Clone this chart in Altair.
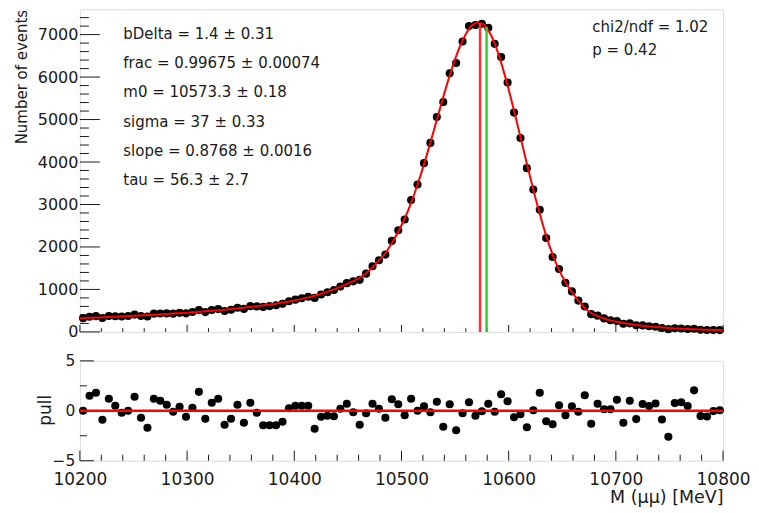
import altair as alt
import pandas as pd

# ---- binning of the histogram ----
BIN_LO = 10200
BIN_W = 6
N_BINS = 100
centers = [BIN_LO + BIN_W * (i + 0.5) for i in range(N_BINS)]

# ---- data ----
events = [324, 358, 371, 328, 375, 368, 362, 373, 408, 375,
          363, 429, 434, 435, 430, 449, 437, 467, 513, 466,
          515, 537, 492, 520, 568, 541, 606, 600, 588, 607,
          628, 661, 723, 759, 791, 827, 800, 880, 933, 985,
          1067, 1148, 1190, 1225, 1371, 1547, 1688, 1820, 2143, 2392,
          2647, 3106, 3470, 3973, 4450, 5059, 5411, 6091, 6333, 6839,
          7202, 7227, 7256, 7159, 6782, 6471, 5872, 5163, 4566, 3856,
          3353, 2875, 2210, 1762, 1481, 1155, 954, 737, 597, 418,
          383, 318, 274, 255, 193, 201, 156, 153, 133, 121,
          91, 65, 87, 79, 69, 75, 50, 45, 45, 42]

fit_values = [324, 331, 338, 345, 352, 359, 366, 373, 381, 389,
              397, 405, 414, 423, 432, 441, 450, 461, 472, 484,
              497, 510, 524, 539, 554, 570, 587, 605, 624, 644,
              665, 690, 716, 745, 777, 813, 853, 898, 948, 1002,
              1060, 1125, 1195, 1275, 1380, 1520, 1680, 1850, 2090, 2360,
              2670, 3040, 3470, 3945, 4460, 4995, 5530, 6040, 6490, 6860,
              7130, 7270, 7260, 7100, 6790, 6340, 5800, 5210, 4590, 3960,
              3350, 2780, 2260, 1820, 1460, 1170, 940, 740, 560, 445,
              370, 315, 272, 238, 210, 186, 165, 146, 130, 116,
              104, 93, 83, 75, 67, 61, 55, 50, 46, 42]
fit_edge_x = [10200, 10800]
fit_edge_y = [321, 40]

pulls = [0.0, 1.5, 1.8, -0.9, 1.2, 0.5, -0.2, 0.0, 1.4, -0.7,
         -1.7, 1.2, 1.0, 0.6, -0.1, 0.4, -0.6, 0.3, 1.9, -0.8,
         0.8, 1.2, -1.4, -0.8, 0.6, -1.2, 0.8, -0.2, -1.45, -1.45,
         -1.45, -1.1, 0.25, 0.5, 0.5, 0.5, -1.8, -0.6, -0.5, -0.55,
         0.2, 0.7, -0.15, -1.4, -0.25, 0.7, 0.2, -0.7, 1.15, 0.65,
         -0.45, 1.2, 0.0, 0.45, -0.15, 0.9, -1.6, 0.65, -1.95, -0.25,
         0.85, -0.5, -0.05, 0.7, -0.1, 1.65, 0.95, -0.65, -0.35, -1.65,
         0.05, 1.8, -1.05, -1.35, 0.55, -0.45, 0.45, -0.1, 1.55, -1.3,
         0.7, 0.15, 0.15, 1.1, -1.2, 1.0, -0.83, 0.68, 0.47, 0.73,
         -0.87, -2.6, 0.77, 0.85, 0.48, 2.05, -0.53, -0.57, -0.03, 0.05]

# vertical markers: fitted m0 (red) and reference mass (green)
marker_x = [10573.3, 10579.4]
marker_top = [7262, 7180]
marker_color = ["#ff3030", "#22dd22"]

# fit-parameter box
param_text = ["bDelta = 1.4 \u00b1 0.31",
              "frac = 0.99675 \u00b1 0.00074",
              "m0 = 10573.3 \u00b1 0.18",
              "sigma = 37 \u00b1 0.33",
              "slope = 0.8768 \u00b1 0.0016",
              "tau = 56.3 \u00b1 2.7"]
param_x = [10240.5] * 6
param_y = [7020, 6330, 5640, 4950, 4260, 3570]

gof_text = ["chi2/ndf = 1.02", "p = 0.42"]
gof_x = [10678, 10678]
gof_y = [7171, 6630]

# axis ticks
x_major = [10200, 10300, 10400, 10500, 10600, 10700, 10800]
x_minor = [v for v in range(10220, 10800, 20) if v % 100 != 0]
y1_major = [0, 1000, 2000, 3000, 4000, 5000, 6000, 7000]
y1_minor = [v for v in range(200, 7600, 200) if v % 1000 != 0]
y2_major = [-5, 0, 5]
y2_minor = [-2.5, 2.5]

FONT = "DejaVu Sans"
W, H1, H2 = 644, 323, 100
INK = "#1a1a1a"
DOT = 66

xscale = alt.Scale(domain=[10200, 10800], nice=False, zero=False)
y1scale = alt.Scale(domain=[0, 7595], nice=False, zero=False)
y2scale = alt.Scale(domain=[-5, 5], nice=False, zero=False)

df = pd.DataFrame({"m": centers, "events": events, "pull": pulls})
fit_df = pd.DataFrame({"m": [fit_edge_x[0]] + centers + [fit_edge_x[1]],
                       "fit": [fit_edge_y[0]] + fit_values + [fit_edge_y[1]]})
mk_df = pd.DataFrame({"m": marker_x, "top": marker_top, "c": marker_color, "z": [0, 0]})
par_df = pd.DataFrame({"x": param_x, "y": param_y, "t": param_text})
gof_df = pd.DataFrame({"x": gof_x, "y": gof_y, "t": gof_text})

y1_axis = alt.Axis(values=y1_major, format="d", title="Number of events",
                   titleFont=FONT, titleFontSize=15, titleFontWeight="normal",
                   titleColor=INK, titleX=-58.5, titleY=0, titleAlign="right",
                   titleBaseline="middle", titleAngle=270,
                   labelFont=FONT, labelFontSize=16, labelColor=INK,
                   labelPadding=2, ticks=False, domain=False, grid=False,
                   labelOverlap=False, minExtent=66, maxExtent=66)
bx_axis = alt.Axis(values=x_major, format="d", title="M (\u03bc\u03bc) [MeV]",
                   titleFont=FONT, titleFontSize=17.5, titleFontWeight="normal",
                   titleColor=INK, titleX=W, titleY=42, titleAlign="right",
                   titleBaseline="alphabetic",
                   labelFont=FONT, labelFontSize=17, labelColor=INK,
                   labelPadding=11, labelFlush=False, labelOverlap=False,
                   ticks=False, domain=False, grid=False)
y2_axis = alt.Axis(values=y2_major, format="d", title="pull",
                   titleFont=FONT, titleFontSize=17, titleFontWeight="normal",
                   titleColor=INK, titleX=-34.6, titleY=49, titleAlign="center",
                   titleBaseline="middle", titleAngle=270,
                   labelFont=FONT, labelFontSize=15.5, labelColor=INK,
                   labelPadding=5, ticks=False, domain=False, grid=False,
                   labelOverlap=False, minExtent=66, maxExtent=66)

X = lambda f: alt.X(f, scale=xscale, axis=None)
XB = lambda f: alt.X(f, scale=xscale, axis=bx_axis)
Y1 = lambda f: alt.Y(f, scale=y1scale, axis=y1_axis)
Y2 = lambda f: alt.Y(f, scale=y2scale, axis=y2_axis)

# ---------------- top panel ----------------
pts = alt.Chart(df).mark_circle(size=DOT, color="black", opacity=1).encode(
    x=X("m:Q"), y=Y1("events:Q"))
fit_line = alt.Chart(fit_df).mark_line(color="#ff0000", strokeWidth=2, interpolate="monotone").encode(
    x=X("m:Q"), y=Y1("fit:Q"))
markers = alt.Chart(mk_df).mark_rule(strokeWidth=2.5, opacity=1).encode(
    x=X("m:Q"), y=Y1("z:Q"), y2="top:Q",
    color=alt.Color("c:N", scale=None))
par = alt.Chart(par_df).mark_text(align="left", baseline="middle", font=FONT,
                                  fontSize=15, color=INK).encode(
    x=X("x:Q"), y=Y1("y:Q"), text="t:N")
gof = alt.Chart(gof_df).mark_text(align="left", baseline="middle", font=FONT,
                                  fontSize=15, color=INK).encode(
    x=X("x:Q"), y=Y1("y:Q"), text="t:N")

tx_maj1 = alt.Chart(pd.DataFrame({"t": x_major})).mark_rule(color=INK, strokeWidth=1).encode(
    x=X("t:Q"), y=alt.value(H1), y2=alt.value(H1 - 7))
tx_min1 = alt.Chart(pd.DataFrame({"t": x_minor})).mark_rule(color=INK, strokeWidth=1).encode(
    x=X("t:Q"), y=alt.value(H1), y2=alt.value(H1 - 3.7))
ty_maj1 = alt.Chart(pd.DataFrame({"t": y1_major})).mark_rule(color=INK, strokeWidth=1).encode(
    y=Y1("t:Q"), x=alt.value(0), x2=alt.value(20))
ty_min1 = alt.Chart(pd.DataFrame({"t": y1_minor})).mark_rule(color=INK, strokeWidth=1).encode(
    y=Y1("t:Q"), x=alt.value(0), x2=alt.value(9))

top = alt.layer(pts, tx_maj1, tx_min1, ty_maj1, ty_min1, fit_line, markers, par, gof).properties(
    width=W, height=H1)

# ---------------- pull panel ----------------
ppts = alt.Chart(df).mark_circle(size=DOT, color="black", opacity=1).encode(
    x=XB("m:Q"), y=Y2("pull:Q"))
zero_line = alt.Chart(pd.DataFrame({"z": [0]})).mark_rule(color="#ff0000", strokeWidth=2.5).encode(
    y=Y2("z:Q"))
tx_maj2 = alt.Chart(pd.DataFrame({"t": x_major})).mark_rule(color=INK, strokeWidth=1).encode(
    x=XB("t:Q"), y=alt.value(H2), y2=alt.value(H2 - 10))
tx_min2 = alt.Chart(pd.DataFrame({"t": x_minor})).mark_rule(color=INK, strokeWidth=1).encode(
    x=XB("t:Q"), y=alt.value(H2), y2=alt.value(H2 - 6))
ty_maj2 = alt.Chart(pd.DataFrame({"t": y2_major})).mark_rule(color=INK, strokeWidth=1).encode(
    y=Y2("t:Q"), x=alt.value(0), x2=alt.value(14))
ty_min2 = alt.Chart(pd.DataFrame({"t": y2_minor})).mark_rule(color=INK, strokeWidth=1).encode(
    y=Y2("t:Q"), x=alt.value(0), x2=alt.value(7))

bottom = alt.layer(ppts, tx_maj2, tx_min2, ty_maj2, ty_min2, zero_line).properties(
    width=W, height=H2)

chart = alt.vconcat(top, bottom, spacing=29, bounds="flush").properties(
    padding={"left": 5, "top": 0, "right": 0, "bottom": 0}
).configure_view(stroke="#222222", strokeWidth=1).configure(background="white")

chart.save("out.html", embed_options={"renderer": "svg", "actions": False})
